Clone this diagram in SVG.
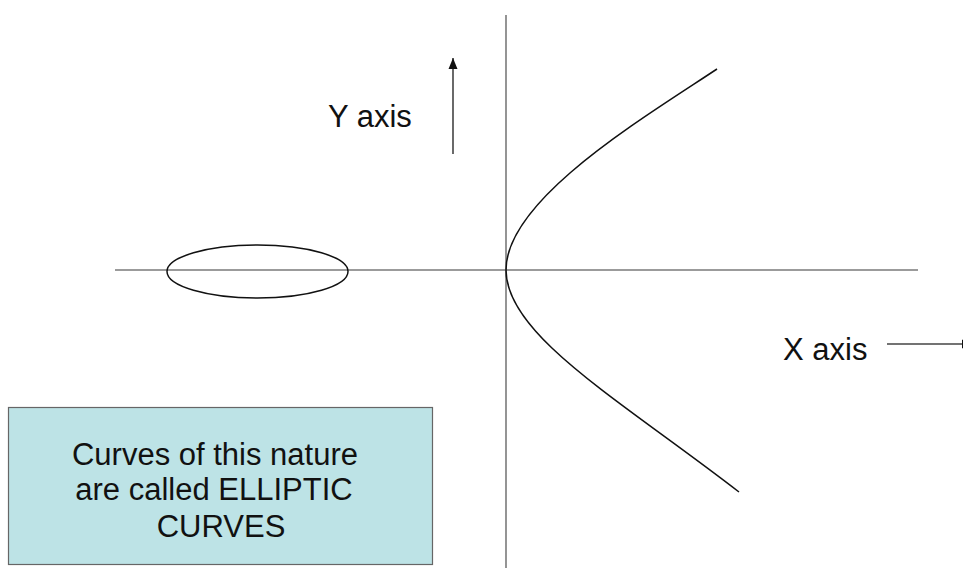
<svg xmlns="http://www.w3.org/2000/svg" width="963" height="568" viewBox="0 0 963 568">
<style>
.axis{stroke:#7a7a7a;stroke-width:1.6;fill:none}
.curve{stroke:#111;stroke-width:1.5;fill:none}
.lbl{font-family:"Liberation Sans",Arial,sans-serif;font-size:31px;fill:#111}
.arrow{stroke:#444;stroke-width:1.6;fill:none}
</style>
<defs>
<marker id="ah" markerUnits="userSpaceOnUse" markerWidth="12" markerHeight="12" viewBox="0 0 12 12" refX="11" refY="6" orient="auto">
<path d="M0,1.5 L11,6 L0,10.5 Z" fill="#111"/>
</marker>
</defs>
<rect width="963" height="568" fill="#fff"/>
<g id="axes">
<line class="axis" x1="506" y1="15" x2="506" y2="568"/>
<line class="axis" x1="115" y1="270" x2="918" y2="270"/>
</g>
<g id="ellipse-curve">
<ellipse class="curve" cx="257.5" cy="271.5" rx="90.5" ry="26.5"/>
</g>
<g id="open-curve">
<path class="curve" d="M717,69 C640,120 506,200 506,270 C506,335 620,400 739,492"/>
</g>
<g id="connectors">
<line class="arrow" x1="453" y1="154" x2="453" y2="58" marker-end="url(#ah)"/>
<line class="arrow" x1="887" y1="344" x2="973" y2="344" marker-end="url(#ah)"/>
</g>
<g id="y-label"><text class="lbl" x="328" y="127">Y axis</text></g>
<g id="x-label"><text class="lbl" x="783" y="360">X axis</text></g>
<g id="note">
<rect x="8.5" y="407.5" width="424" height="157" fill="#bde3e6" stroke="#666" stroke-width="1.2"/>
<text class="lbl" text-anchor="middle" x="215" y="465">Curves of this nature</text>
<text class="lbl" text-anchor="middle" x="214" y="500">are called ELLIPTIC</text>
<text class="lbl" text-anchor="middle" x="221" y="537">CURVES</text>
</g>
</svg>
